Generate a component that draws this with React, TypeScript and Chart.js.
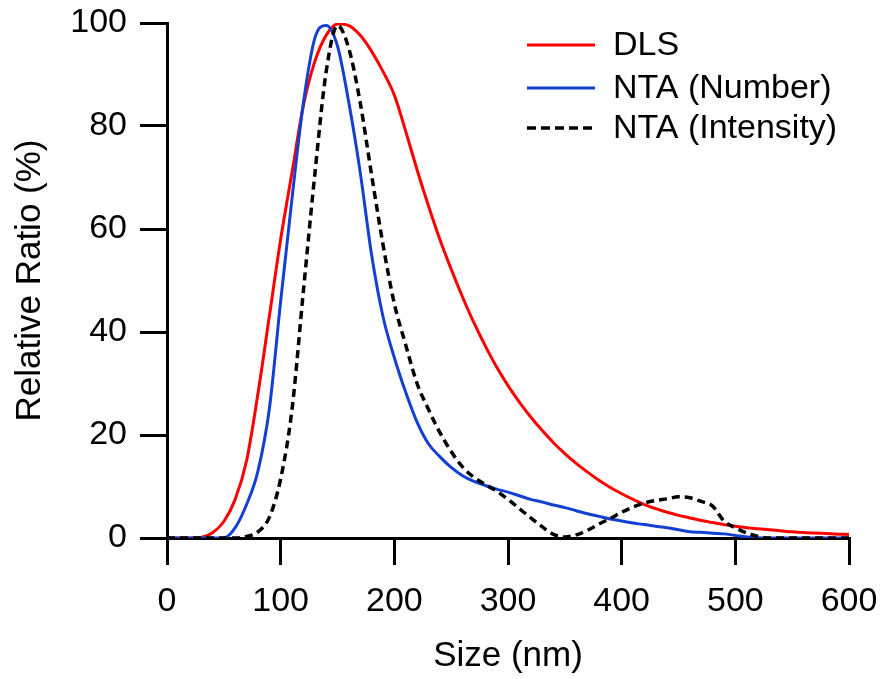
import React, { useEffect, useRef } from "react";
import { Chart, registerables } from "chart.js";

Chart.register(...registerables);

const sizeNm = [
  0, 10, 20, 30, 40, 50, 60, 70, 80, 90,
  100, 110, 120, 130, 140, 150, 160, 170, 180, 190,
  200, 210, 220, 230, 240, 250, 260, 270, 280, 290,
  300, 310, 320, 330, 340, 350, 360, 370, 380, 390,
  400, 410, 420, 430, 440, 450, 460, 470, 480, 490,
  500, 510, 520, 530, 540, 550, 560, 570, 580, 590, 600,
];

const dlsValues = [
  0, 0, 0, 0.1, 1, 3.2, 7.5, 15, 28, 43,
  58, 71, 84, 92.5, 97.6, 99.8, 99.5, 97.6, 94.5, 90.6,
  86, 79, 71.5, 64.5, 58, 52.2, 46.8, 41.8, 37.3, 33.2,
  29.6, 26.4, 23.5, 20.9, 18.5, 16.4, 14.5, 12.8, 11.2, 9.8,
  8.6, 7.5, 6.5, 5.7, 5.0, 4.4, 3.9, 3.4, 3.0, 2.6,
  2.3, 2.0, 1.8, 1.6, 1.4, 1.2, 1.05, 0.95, 0.85, 0.75, 0.7,
];

const ntaNumberValues = [
  0, 0, 0, 0, 0, 0, 2, 6.5, 13, 25,
  46, 66, 84.5, 97, 99.5, 95.5, 84.5, 71, 55, 43,
  35, 28.3, 22.5, 18.3, 15.8, 13.7, 12.1, 11, 10.2, 9.5,
  8.9, 8.2, 7.5, 7, 6.4, 5.9, 5.3, 4.7, 4.2, 3.7,
  3.3, 2.9, 2.6, 2.3, 2.0, 1.6, 1.2, 1.1, 0.9, 0.8,
  0.5, 0.2, 0.05, 0, 0, 0, 0, 0, 0, 0, 0,
];

const ntaIntensityValues = [
  0, 0, 0, 0, 0, 0, 0, 0.3, 1.2, 4,
  11.5, 25, 48, 70.5, 90.5, 99.5, 95, 84.5, 70.5, 57,
  45.5, 37.5, 30, 25, 20.5, 16.8, 13.8, 11.8, 10.4, 9.1,
  7.5, 5.7, 3.9, 2.2, 0.7, 0.2, 0.6, 1.5, 2.7, 3.8,
  5, 6, 6.8, 7.3, 7.6, 8, 7.8, 7.1, 6.2, 3.3,
  2.0, 1.0, 0.3, 0, 0, 0, 0, 0, 0, 0, 0,
];

const xTicks = [0, 100, 200, 300, 400, 500, 600];
const yTicks = [0, 20, 40, 60, 80, 100];

const seriesNames = ["DLS", "NTA (Number)", "NTA (Intensity)"];
const seriesColors = ["#ff0000", "#1440d2", "#000000"];

const FONT = "'Liberation Sans', Arial, sans-serif";

const legendPlugin = {
  id: "insideLegend",
  afterDraw(chart: any) {
    const ctx = chart.ctx;
    const rows = [45, 88, 128];
    ctx.save();
    ctx.font = `34px ${FONT}`;
    ctx.textBaseline = "middle";
    ctx.textAlign = "left";
    seriesNames.forEach((name, i) => {
      const y = rows[i];
      ctx.beginPath();
      ctx.strokeStyle = seriesColors[i];
      ctx.lineWidth = i === 2 ? 3.5 : 3;
      ctx.setLineDash(i === 2 ? [9, 5] : []);
      ctx.moveTo(527, y);
      ctx.lineTo(595, y);
      ctx.stroke();
      ctx.setLineDash([]);
      ctx.fillStyle = "#000";
      ctx.fillText(name, 613, y + 1);
    });
    ctx.restore();
  },
};

const zeroPad = (s: any) => {
  s.paddingTop = 0;
  s.paddingBottom = 0;
  s.paddingLeft = 0;
  s.paddingRight = 0;
};

export default function App() {
  const canvasRef = useRef<HTMLCanvasElement | null>(null);

  useEffect(() => {
    if (!canvasRef.current) return;
    const mk = (vals: number[]) => sizeNm.map((x, i) => ({ x, y: vals[i] }));
    const common = { pointRadius: 0, cubicInterpolationMode: "monotone" };
    const chart = new Chart(canvasRef.current, {
      type: "line",
      data: {
        datasets: [
          {
            label: seriesNames[0],
            data: mk(dlsValues),
            borderColor: seriesColors[0],
            borderWidth: 3,
            order: 2,
            ...common,
          },
          {
            label: seriesNames[1],
            data: mk(ntaNumberValues),
            borderColor: seriesColors[1],
            borderWidth: 3,
            order: 1,
            ...common,
          },
          {
            label: seriesNames[2],
            data: mk(ntaIntensityValues),
            borderColor: seriesColors[2],
            borderWidth: 3.5,
            borderDash: [8, 5],
            order: 0,
            ...common,
          },
        ],
      },
      options: {
        animation: false,
        responsive: false,
        layout: { autoPadding: false, padding: { left: 0, top: 23, right: 36, bottom: 0 } },
        plugins: {
          legend: { display: false },
          tooltip: { enabled: false },
        },
        scales: {
          x: {
            type: "linear",
            min: 0,
            max: 600,
            afterFit: (s: any) => {
              s.height = 141;
              zeroPad(s);
            },
            afterBuildTicks: (s: any) => {
              s.ticks = xTicks.map((v) => ({ value: v }));
            },
            border: { display: true, width: 3, color: "#000" },
            grid: {
              drawOnChartArea: false,
              drawTicks: true,
              tickLength: 27,
              lineWidth: 3,
              color: "#000",
            },
            ticks: {
              color: "#000",
              padding: 16,
              maxRotation: 0,
              font: { family: FONT, size: 34 },
            },
            title: {
              display: true,
              text: "Size (nm)",
              color: "#000",
              padding: { top: 0, bottom: 2 },
              font: { family: FONT, size: 35 },
            },
          },
          y: {
            type: "linear",
            min: 0,
            max: 100,
            afterFit: (s: any) => {
              s.width = 167;
              zeroPad(s);
            },
            afterBuildTicks: (s: any) => {
              s.ticks = yTicks.map((v) => ({ value: v }));
            },
            border: { display: true, width: 3, color: "#000" },
            grid: {
              drawOnChartArea: false,
              drawTicks: true,
              tickLength: 27,
              lineWidth: 3,
              color: "#000",
            },
            ticks: {
              color: "#000",
              padding: 13,
              font: { family: FONT, size: 34 },
            },
            title: {
              display: true,
              text: "Relative Ratio (%)",
              color: "#000",
              padding: { top: 9, bottom: 0 },
              font: { family: FONT, size: 35 },
            },
          },
        },
      },
      plugins: [legendPlugin],
    } as any);
    return () => chart.destroy();
  }, []);

  return (
    <div style={{ position: "absolute", left: 0, top: 0, width: 885, height: 679, background: "#fff" }}>
      <canvas ref={canvasRef} width={885} height={679} style={{ display: "block" }} />
    </div>
  );
}
